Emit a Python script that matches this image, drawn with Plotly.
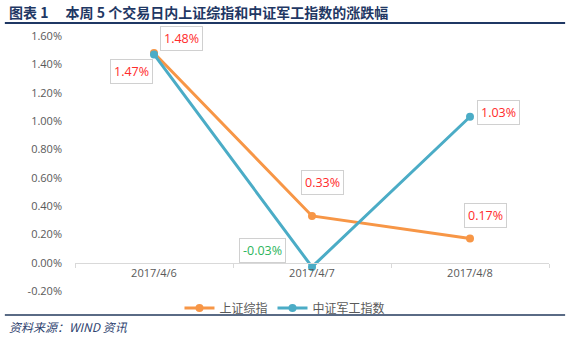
import plotly.graph_objects as go

categories = ["2017/4/6", "2017/4/7", "2017/4/8"]
sh_index = [1.48, 0.33, 0.17]        # 上证综指 (%)
jg_index = [1.47, -0.03, 1.03]       # 中证军工指数 (%)
series_names = ["上证综指", "中证军工指数"]
y_ticks = [-0.2, 0.0, 0.2, 0.4, 0.6, 0.8, 1.0, 1.2, 1.4, 1.6]

ORANGE = "#F79646"
TEAL = "#4BACC6"
TXT = "#595959"
NUM_FONT = "Open Sans"
CJK_FONT = "Noto Sans CJK SC"

fig = go.Figure()
fig.add_trace(go.Scatter(x=categories, y=sh_index, name=series_names[0], mode="lines+markers",
                         line=dict(color=ORANGE, width=3), marker=dict(size=8, color=ORANGE),
                         hoverinfo="skip"))
fig.add_trace(go.Scatter(x=categories, y=jg_index, name=series_names[1], mode="lines+markers",
                         line=dict(color=TEAL, width=3), marker=dict(size=8, color=TEAL),
                         hoverinfo="skip"))

# data labels (label offsets in px)
labels = [
    (categories[0], sh_index[0], 27, 15, "#FF2B2B"),
    (categories[0], jg_index[0], -23, -17, "#FF2B2B"),
    (categories[1], sh_index[1], 10, 33, "#FF2B2B"),
    (categories[1], jg_index[1], -50, 16, "#2DB55D"),
    (categories[2], jg_index[2], 28, 4, "#FF2B2B"),
    (categories[2], sh_index[2], 15, 23, "#FF2B2B"),
]
for x, y, dx, dy, col in labels:
    fig.add_annotation(x=x, y=y, xref="x", yref="y", text=f"{y:.2f}%", showarrow=False,
                       xshift=dx, yshift=dy, font=dict(family=NUM_FONT, size=12.5, color=col),
                       bgcolor="white", bordercolor="#D0D0D0", borderwidth=1, borderpad=3)

ymin, ymax = -0.2, 1.6
fig.update_layout(
    width=580, height=341,
    margin=dict(l=75, r=31, t=36, b=50),
    paper_bgcolor="white", plot_bgcolor="white",
    showlegend=True,
    legend=dict(orientation="h", x=0.443, xanchor="center", y=-0.067, yanchor="middle",
                font=dict(family=CJK_FONT, size=12, color=TXT), itemwidth=30,
                bgcolor="rgba(0,0,0,0)", tracegroupgap=0),
    xaxis=dict(type="category", range=[-0.5, 2.5], anchor="free",
               position=(0 - ymin) / (ymax - ymin),
               showline=True, linecolor="#D9D9D9", linewidth=1,
               tickson="boundaries", ticks="outside", ticklen=4, tickcolor="#D9D9D9",
               showgrid=False, zeroline=False,
               tickfont=dict(family=NUM_FONT, size=11, color=TXT)),
    yaxis=dict(range=[ymin, ymax], tickvals=y_ticks,
               ticktext=[f"{v:.2f}%" for v in y_ticks],
               showgrid=False, zeroline=False, showline=False,
               ticks="", ticklabelstandoff=12,
               tickfont=dict(family=NUM_FONT, size=11, color=TXT)),
)

# title, rules and footer (paper coords)
fig.add_annotation(xref="paper", yref="paper", x=-0.1435, y=1.094, xanchor="left", yanchor="middle",
                   text="<b>图表 1　 本周 5 个交易日内上证综指和中证军工指数的涨跌幅</b>",
                   showarrow=False, font=dict(family=CJK_FONT, size=14, color="#1F3864"))
fig.add_shape(type="line", xref="paper", yref="paper", x0=-0.148, x1=1.034, y0=1.051, y1=1.051,
              line=dict(color="#1F3864", width=2))
fig.add_shape(type="line", xref="paper", yref="paper", x0=-0.148, x1=1.034, y0=-0.094, y1=-0.094,
              line=dict(color="#5A6B85", width=2))
fig.add_annotation(xref="paper", yref="paper", x=-0.1435, y=-0.141, xanchor="left", yanchor="middle",
                   text="<i>资料来源：WIND 资讯</i>", showarrow=False,
                   font=dict(family=CJK_FONT, size=12, color="#2F4470"))

fig.write_html("out.html")
